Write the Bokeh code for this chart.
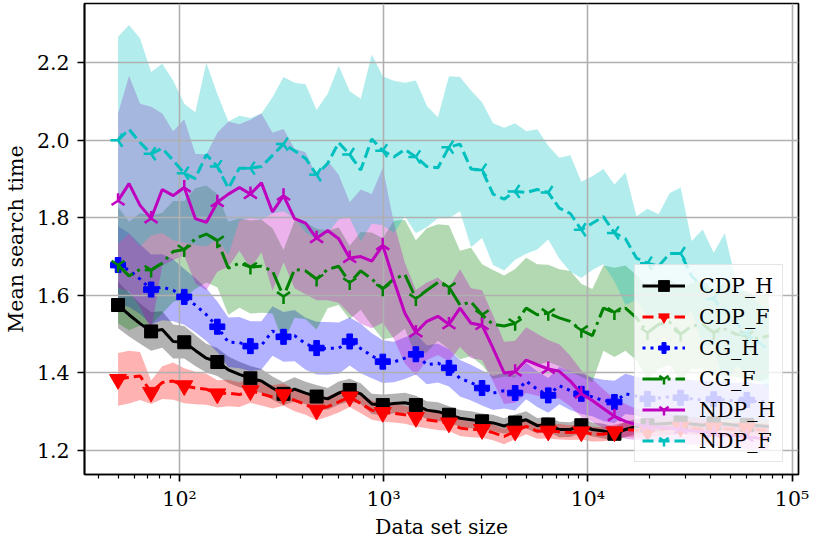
import numpy as np
from bokeh.plotting import figure
from bokeh.models import FixedTicker, Legend, LegendItem, Range1d, PrintfTickFormatter
from bokeh.embed import file_html
from bokeh.resources import INLINE

x = [50, 56.6, 64.1, 72.6, 82.3, 93.1, 105.5, 119.5, 135.3, 153.2,
     173.5, 196.5, 222.5, 252.0, 285.4, 323.2, 366.0, 414.5, 469.4, 531.6,
     602.0, 681.8, 772.1, 874.4, 990.0, 1121, 1270, 1438, 1628, 1844,
     2088, 2365, 2678, 3033, 3435, 3890, 4405, 4989, 5650, 6398,
     7246, 8206, 9293, 10522, 11918, 13497, 15285, 17310, 19603, 22200,
     25140, 28472, 32244, 36517, 41355, 46833, 53039, 60064, 68022, 77000]

cdp_h_mean = [1.575, 1.55, 1.527, 1.507, 1.512, 1.481, 1.479, 1.458, 1.438, 1.428,
              1.408, 1.396, 1.386, 1.379, 1.361, 1.346, 1.358, 1.348, 1.339, 1.333,
              1.348, 1.356, 1.346, 1.32, 1.317, 1.321, 1.323, 1.317, 1.304, 1.3,
              1.292, 1.283, 1.279, 1.275, 1.271, 1.263, 1.272, 1.279, 1.264, 1.267,
              1.254, 1.254, 1.265, 1.254, 1.25, 1.243, 1.254, 1.262, 1.265, 1.268,
              1.27, 1.272, 1.268, 1.265, 1.27, 1.268, 1.265, 1.266, 1.264, 1.262]
cdp_h_std = [0.06, 0.056, 0.052, 0.05, 0.047, 0.044, 0.042, 0.04, 0.037, 0.036,
             0.034, 0.033, 0.032, 0.031, 0.03, 0.03, 0.031, 0.029, 0.03, 0.028,
             0.03, 0.029, 0.027, 0.026, 0.027, 0.025, 0.026, 0.024, 0.023, 0.024,
             0.022, 0.021, 0.022, 0.02, 0.021, 0.02, 0.021, 0.022, 0.02, 0.019,
             0.02, 0.019, 0.02, 0.018, 0.019, 0.018, 0.02, 0.019, 0.018, 0.019,
             0.018, 0.019, 0.018, 0.017, 0.018, 0.017, 0.018, 0.017, 0.018, 0.017]

cdp_f_mean = [1.383, 1.389, 1.392, 1.35, 1.375, 1.379, 1.367, 1.361, 1.358, 1.346,
              1.348, 1.344, 1.354, 1.346, 1.338, 1.344, 1.329, 1.319, 1.304, 1.313,
              1.325, 1.338, 1.321, 1.304, 1.298, 1.296, 1.292, 1.285, 1.279, 1.275,
              1.271, 1.258, 1.254, 1.254, 1.246, 1.236, 1.25, 1.262, 1.25, 1.25,
              1.248, 1.246, 1.248, 1.242, 1.242, 1.248, 1.254, 1.252, 1.25, 1.255,
              1.258, 1.26, 1.257, 1.255, 1.258, 1.256, 1.255, 1.257, 1.254, 1.252]
cdp_f_std = [0.068, 0.068, 0.062, 0.03, 0.042, 0.048, 0.045, 0.042, 0.04, 0.035,
             0.034, 0.032, 0.031, 0.03, 0.03, 0.029, 0.028, 0.027, 0.026, 0.026,
             0.027, 0.026, 0.025, 0.025, 0.024, 0.024, 0.023, 0.023, 0.022, 0.022,
             0.021, 0.021, 0.02, 0.021, 0.02, 0.02, 0.021, 0.02, 0.02, 0.019,
             0.02, 0.019, 0.02, 0.019, 0.018, 0.019, 0.018, 0.018, 0.017, 0.018,
             0.017, 0.018, 0.017, 0.018, 0.017, 0.018, 0.017, 0.018, 0.017, 0.017]

cg_h_mean = [1.678, 1.665, 1.642, 1.615, 1.621, 1.613, 1.596, 1.575, 1.55, 1.519,
             1.479, 1.478, 1.469, 1.471, 1.508, 1.493, 1.496, 1.475, 1.464, 1.463,
             1.464, 1.481, 1.463, 1.444, 1.429, 1.428, 1.438, 1.448, 1.421, 1.425,
             1.413, 1.386, 1.375, 1.361, 1.348, 1.354, 1.348, 1.379, 1.358, 1.342,
             1.367, 1.354, 1.346, 1.338, 1.329, 1.325, 1.346, 1.34, 1.333, 1.335,
             1.338, 1.336, 1.333, 1.33, 1.332, 1.33, 1.328, 1.33, 1.326, 1.325]
cg_h_std = [0.1, 0.095, 0.09, 0.09, 0.085, 0.08, 0.072, 0.07, 0.068, 0.065,
            0.064, 0.066, 0.064, 0.062, 0.064, 0.064, 0.066, 0.067, 0.068, 0.068,
            0.066, 0.062, 0.064, 0.058, 0.055, 0.052, 0.054, 0.052, 0.05, 0.05,
            0.048, 0.047, 0.046, 0.045, 0.044, 0.046, 0.045, 0.047, 0.046, 0.045,
            0.048, 0.05, 0.052, 0.05, 0.053, 0.055, 0.052, 0.05, 0.051, 0.05,
            0.049, 0.05, 0.048, 0.049, 0.047, 0.048, 0.046, 0.047, 0.045, 0.046]

cg_f_mean = [1.678, 1.65, 1.667, 1.665, 1.683, 1.713, 1.718, 1.746, 1.758, 1.741,
             1.67, 1.683, 1.673, 1.675, 1.663, 1.597, 1.667, 1.663, 1.642, 1.667,
             1.675, 1.633, 1.663, 1.642, 1.617, 1.642, 1.654, 1.592, 1.613, 1.633,
             1.621, 1.575, 1.583, 1.55, 1.525, 1.521, 1.528, 1.567, 1.55, 1.554,
             1.542, 1.533, 1.51, 1.496, 1.567, 1.556, 1.567, 1.542, 1.504, 1.525,
             1.531, 1.5, 1.521, 1.525, 1.504, 1.513, 1.5, 1.496, 1.488, 1.496]
cg_f_std = [0.15, 0.14, 0.145, 0.14, 0.13, 0.13, 0.125, 0.13, 0.125, 0.12,
            0.12, 0.115, 0.12, 0.12, 0.11, 0.12, 0.125, 0.125, 0.13, 0.1,
            0.1, 0.095, 0.1, 0.12, 0.13, 0.15, 0.14, 0.15, 0.16, 0.15,
            0.16, 0.14, 0.14, 0.13, 0.14, 0.13, 0.14, 0.13, 0.13, 0.125,
            0.125, 0.13, 0.12, 0.12, 0.11, 0.115, 0.11, 0.11, 0.12, 0.115,
            0.11, 0.12, 0.11, 0.115, 0.11, 0.12, 0.11, 0.115, 0.11, 0.11]

ndp_h_mean = [1.844, 1.888, 1.832, 1.798, 1.873, 1.857, 1.878, 1.798, 1.788, 1.84,
              1.861, 1.878, 1.861, 1.89, 1.815, 1.857, 1.798, 1.786, 1.747, 1.767,
              1.746, 1.696, 1.7, 1.688, 1.729, 1.638, 1.554, 1.504, 1.533, 1.546,
              1.525, 1.567, 1.528, 1.523, 1.463, 1.4, 1.403, 1.433, 1.421, 1.41,
              1.404, 1.379, 1.346, 1.329, 1.308, 1.288, 1.275, 1.267, 1.262, 1.26,
              1.258, 1.255, 1.25, 1.248, 1.245, 1.24, 1.238, 1.235, 1.232, 1.23]
ndp_h_std = [0.225, 0.278, 0.262, 0.288, 0.196, 0.166, 0.176, 0.167, 0.175, 0.179,
             0.187, 0.163, 0.192, 0.179, 0.204, 0.172, 0.18, 0.183, 0.16, 0.18,
             0.165, 0.144, 0.173, 0.173, 0.2, 0.15, 0.13, 0.11, 0.1, 0.1,
             0.095, 0.1, 0.09, 0.09, 0.085, 0.08, 0.08, 0.085, 0.08, 0.075,
             0.07, 0.065, 0.06, 0.055, 0.05, 0.045, 0.045, 0.04, 0.04, 0.038,
             0.037, 0.036, 0.035, 0.034, 0.033, 0.032, 0.032, 0.031, 0.03, 0.03]

ndp_f_mean = [2.0, 2.028, 1.994, 1.965, 1.979, 1.948, 1.915, 1.901, 1.963, 1.932,
              1.876, 1.928, 1.928, 1.932, 1.961, 1.99, 1.973, 1.953, 1.911, 1.94,
              1.994, 1.963, 1.923, 2.003, 1.973, 1.957, 1.976, 1.957, 1.932, 1.929,
              1.982, 1.99, 1.926, 1.923, 1.861, 1.848, 1.868, 1.865, 1.873, 1.865,
              1.825, 1.811, 1.769, 1.786, 1.803, 1.761, 1.746, 1.696, 1.683, 1.675,
              1.708, 1.708, 1.65, 1.62, 1.59, 1.56, 1.53, 1.5, 1.48, 1.46]
ndp_f_std = [0.267, 0.269, 0.268, 0.211, 0.218, 0.206, 0.179, 0.171, 0.237, 0.187,
             0.172, 0.135, 0.129, 0.137, 0.15, 0.173, 0.175, 0.191, 0.167, 0.18,
             0.198, 0.163, 0.184, 0.218, 0.192, 0.196, 0.172, 0.197, 0.156, 0.13,
             0.183, 0.173, 0.202, 0.175, 0.183, 0.184, 0.176, 0.158, 0.155, 0.121,
             0.13, 0.15, 0.124, 0.121, 0.123, 0.125, 0.171, 0.108, 0.14, 0.134,
             0.155, 0.17, 0.09, 0.15, 0.12, 0.2, 0.11, 0.1, 0.1, 0.1]

names = ["CDP_H", "CDP_F", "CG_H", "CG_F", "NDP_H", "NDP_F"]
means = [cdp_h_mean, cdp_f_mean, cg_h_mean, cg_f_mean, ndp_h_mean, ndp_f_mean]
stds = [cdp_h_std, cdp_f_std, cg_h_std, cg_f_std, ndp_h_std, ndp_f_std]

x_major = [100, 1000, 10000, 100000]
x_minor = [40, 50, 60, 70, 80, 90, 200, 300, 400, 500, 600, 700, 800, 900,
           2000, 3000, 4000, 5000, 6000, 7000, 8000, 9000,
           20000, 30000, 40000, 50000, 60000, 70000, 80000, 90000]
x_labels = {100: "10²", 1000: "10³", 10000: "10⁴", 100000: "10⁵"}
y_ticks = [1.2, 1.4, 1.6, 1.8, 2.0, 2.2]

colors = ["#000000", "#ff0000", "#0000ff", "#008000", "#bf00bf", "#00bfbf"]
dashes = ["solid", "11 5", "3 5", "20 5 3 5", "solid", "11 5"]
marker_styles = [  # (marker, angle, size, line_width)
    ("square", 0.0, 13, 1.0),
    ("inverted_triangle", 0.0, 17, 1.0),
    ("plus", 0.0, 15, 1.0),
    ("y", 0.0, 15, 2.5),
    ("y", np.pi, 15, 2.5),
    ("y", -np.pi / 2, 15, 2.5),
]

FONT = "DejaVu Serif"
FS = "20.5px"

p = figure(width=814, height=542, x_axis_type="log",
           x_range=Range1d(34.25, 107600), y_range=Range1d(1.138, 2.3525),
           output_backend="svg", toolbar_location=None,
           min_border_left=81, min_border_right=16, min_border_top=3, min_border_bottom=68)
p.background_fill_color = "white"
p.border_fill_color = "white"
p.outline_line_color = "black"
p.outline_line_width = 1.7

xs = np.array(x, dtype=float)
for m, s, c in zip(means, stds, colors):
    m = np.array(m); s = np.array(s)
    r = p.varea(x=xs, y1=m - s, y2=m + s, fill_color=c, fill_alpha=0.3)
    r.level = "image"

items = []
for name, m, c, d, ms in zip(names, means, colors, dashes, marker_styles):
    m = np.array(m)
    lr = p.line(xs, m, line_color=c, line_width=3, line_dash=d)
    mk, ang, sz, lw = ms
    sr = p.scatter(xs[::3], m[::3], marker=mk, angle=ang, size=sz,
                   line_color=c, fill_color=c, line_width=lw)
    items.append(LegendItem(label=name, renderers=[lr, sr]))

for g in p.grid:
    g.grid_line_color = "#b0b0b0"
    g.grid_line_width = 1.6
    g.level = "underlay"

p.xaxis.ticker = FixedTicker(ticks=x_major, minor_ticks=x_minor)
p.xaxis.major_label_overrides = x_labels
p.yaxis.ticker = FixedTicker(ticks=y_ticks)
p.yaxis.formatter = PrintfTickFormatter(format="%.1f")

for ax in (p.xaxis[0], p.yaxis[0]):
    ax.axis_line_color = "black"
    ax.axis_line_width = 1.7
    ax.major_tick_line_color = "black"
    ax.major_tick_line_width = 1.7
    ax.major_tick_out = 7
    ax.major_tick_in = 0
    ax.minor_tick_line_color = "black"
    ax.minor_tick_line_width = 1.2
    ax.minor_tick_out = 4
    ax.minor_tick_in = 0
    ax.major_label_text_font = FONT
    ax.major_label_text_font_size = FS
    ax.major_label_text_color = "black"
    ax.axis_label_text_font = FONT
    ax.axis_label_text_font_size = FS
    ax.axis_label_text_font_style = "normal"
    ax.axis_label_text_color = "black"

p.yaxis.minor_tick_line_color = None
p.xaxis.axis_label = "Data set size"
p.yaxis.axis_label = "Mean search time"
p.xaxis.major_label_standoff = 5
p.xaxis.axis_label_standoff = 1
p.yaxis.major_label_standoff = 8
p.yaxis.axis_label_standoff = 6

legend = Legend(items=items, location=(550, 12))
legend.label_text_font = FONT
legend.label_text_font_size = FS
legend.label_text_color = "black"
legend.glyph_width = 43
legend.glyph_height = 27
legend.label_height = 27
legend.label_width = 60
legend.label_standoff = 14
legend.spacing = 4
legend.padding = 7
legend.margin = 0
legend.background_fill_color = "white"
legend.background_fill_alpha = 0.8
legend.border_line_color = "#cccccc"
legend.border_line_width = 1.5
p.add_layout(legend)

open("out.html", "w").write(file_html(p, INLINE))
